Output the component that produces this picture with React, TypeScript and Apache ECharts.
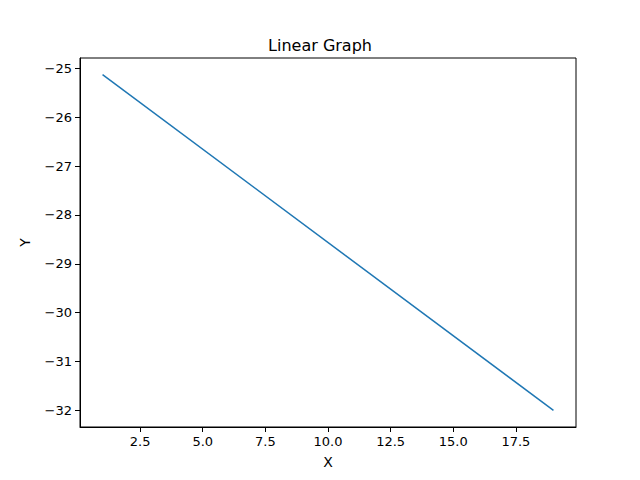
import React, { useEffect, useRef } from 'react';
import * as echarts from 'echarts';

const xValues = [1, 19];
const yValues = [-25.13, -32.0];
const xTicks = [2.5, 5, 7.5, 10, 12.5, 15, 17.5];
const yTicks = [-32, -31, -30, -29, -28, -27, -26, -25];
const font = 'DejaVu Sans';

const fmt = (v: number) => (v < 0 ? '\u2212' + String(-v) : String(v));

export default function App() {
  const ref = useRef<HTMLDivElement>(null);

  useEffect(() => {
    if (!ref.current) return;
    const chart = echarts.init(ref.current, null, { renderer: 'svg' });
    const axisCommon = {
      type: 'value',
      axisLine: { show: true, onZero: false, lineStyle: { color: '#000', width: 1 } },
      splitLine: { show: false },
      nameTextStyle: { color: '#000', fontFamily: font, fontSize: 14 },
    };
    chart.setOption({
      animation: false,
      title: {
        text: 'Linear Graph',
        left: 'center',
        top: 32,
        textStyle: { fontFamily: font, fontSize: 16, fontWeight: 'normal', color: '#000' },
      },
      grid: { left: 80, right: 64, top: 58, bottom: 53, show: true, borderColor: '#000', borderWidth: 1 },
      xAxis: {
        ...axisCommon,
        min: 0.1,
        max: 19.9,
        name: 'X',
        nameLocation: 'middle',
        nameGap: 28,
        axisTick: { show: true, inside: false, length: 5, lineStyle: { color: '#000' }, customValues: xTicks },
        axisLabel: {
          color: '#000', fontFamily: font, fontSize: 13, margin: 8,
          customValues: xTicks,
          formatter: (v: number) => Number(v).toFixed(1),
        },
      },
      yAxis: {
        ...axisCommon,
        min: -32.34,
        max: -24.79,
        name: 'Y',
        nameLocation: 'middle',
        nameGap: 48,
        axisTick: { show: true, inside: false, length: 5, lineStyle: { color: '#000' }, customValues: yTicks },
        axisLabel: {
          color: '#000', fontFamily: font, fontSize: 13, margin: 8,
          customValues: yTicks,
          formatter: (v: number) => fmt(Number(v)),
        },
      },
      series: [
        {
          type: 'line',
          data: xValues.map((x, i) => [x, yValues[i]]),
          showSymbol: false,
          lineStyle: { color: '#1f77b4', width: 1.5 },
        },
      ],
    });
    return () => chart.dispose();
  }, []);

  return <div ref={ref} style={{ width: 640, height: 480, margin: -8 }} />;
}
